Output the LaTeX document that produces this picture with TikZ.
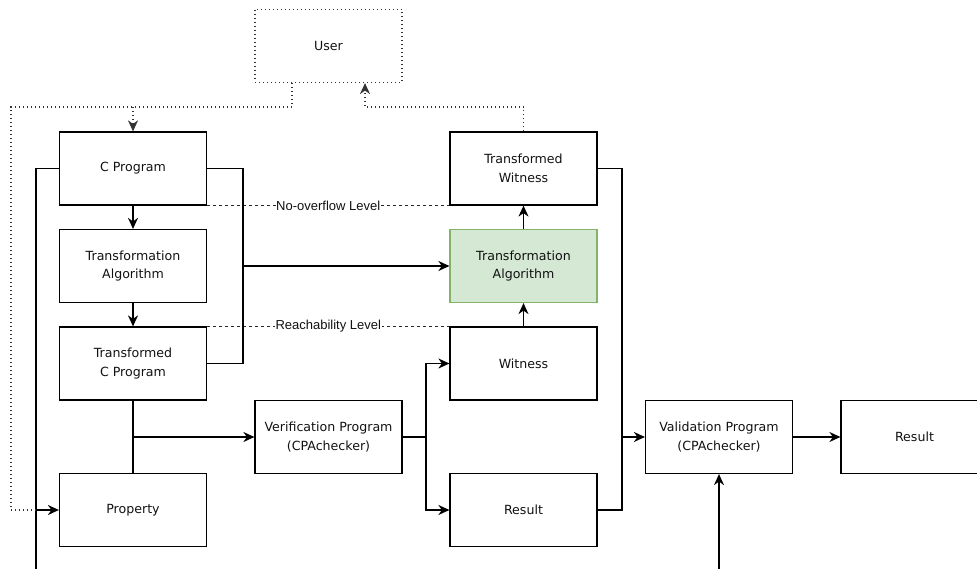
\documentclass[tikz,border=0pt]{standalone}
\usepackage{fontspec}
\setmainfont{DejaVu Sans}
\newfontfamily\lblfont{Liberation Sans}
\usetikzlibrary{arrows.meta}
\definecolor{gfill}{HTML}{D5E8D4}
\definecolor{gdraw}{HTML}{82B366}
\definecolor{txt}{HTML}{111111}
\tikzset{
  box/.style={draw=black, line width=1.2pt, minimum width=147pt, minimum height=73pt,
    align=center, text=txt, font=\fontsize{12.6}{18.5}\selectfont, inner sep=2pt},
  userbox/.style={box, draw=black!80, dash pattern=on 1pt off 3pt},
  greenbox/.style={box, fill=gfill, draw=gdraw},
  ln/.style={draw=black, line width=1.3pt},
  arr/.style={ln, -{Stealth[length=11pt,width=10pt,inset=3.5pt]}},
  dotln/.style={draw=black!80, line width=1.2pt, dash pattern=on 1pt off 3pt},
  dotarr/.style={dotln, -{Stealth[length=11pt,width=10pt,inset=3.5pt]}},
  lvlln/.style={draw=black!85, line width=1.1pt, dash pattern=on 3pt off 3pt},
  lvl/.style={fill=white, inner sep=0.6pt, text=txt, font=\lblfont\fontsize{13}{14}\selectfont}
}
\begin{document}
\begin{tikzpicture}[x=1pt,y=-1pt]
\useasboundingbox (0,0) rectangle (977,569);
% nodes
\node[userbox] (user) at (328.5,46) {User};
\node[box] (cprog) at (133,168.5) {C Program};
\node[box] (talg) at (133,266) {Transformation\\Algorithm};
\node[box] (tcprog) at (133,363.5) {Transformed\\C Program};
\node[box] (prop) at (133,510) {Property};
\node[box] (verif) at (328.5,437) {Verification Program\\(CPAchecker)};
\node[box] (witness) at (523.5,363.5) {Witness};
\node[box] (resmid) at (523.5,510) {Result};
\node[greenbox] (galg) at (523.5,266) {Transformation\\Algorithm};
\node[box] (twit) at (523.5,168.5) {Transformed\\Witness};
\node[box] (valid) at (719,437) {Validation Program\\(CPAchecker)};
\node[box] (result) at (914.5,437) {Result};
% coordinates
\coordinate (j1) at (243,266);
\coordinate (j2) at (133,437);
\coordinate (j3) at (426,437);
\coordinate (j4) at (622,437);
\coordinate (b0) at (36,569);
\coordinate (b1) at (719,569);
\coordinate (d1) at (292,107);
\coordinate (d2) at (133,107);
\coordinate (d3) at (11,107);
\coordinate (d4) at (11,510);
\coordinate (d5) at (36,510);
\coordinate (e1) at (523.5,107);
\coordinate (e2) at (365,107);
% level lines
\draw[lvlln] (cprog.south east) -- node[lvl]{No-overflow Level} (twit.south west);
\draw[lvlln] (tcprog.north east) -- node[lvl]{Reachability Level} (witness.north west);
% connectors
\draw[arr] (cprog) -- (talg);
\draw[arr] (talg) -- (tcprog);
\draw[ln] (cprog.east) -| (j1) |- (tcprog.east);
\draw[arr] (j1) -- (galg.west);
\draw[ln] (tcprog.south) -- (prop.north);
\draw[arr] (j2) -- (verif.west);
\draw[ln] (verif.east) -- (j3);
\draw[arr] (j3) |- (witness.west);
\draw[arr] (j3) |- (resmid.west);
\draw[arr] (witness) -- (galg);
\draw[arr] (galg) -- (twit);
\draw[ln] (twit.east) -| (j4);
\draw[ln] (resmid.east) -| (j4);
\draw[arr] (j4) -- (valid.west);
\draw[arr] (valid) -- (result);
\draw[arr] (b1) -- (valid.south);
\draw[ln] (cprog.west) -| (b0);
% user dotted connectors
\draw[dotln] (user.south -| d1) -- (d1) -- (d3) -- (d4) -- (d5);
\draw[dotarr] (d2) -- (cprog.north);
\draw[arr] (d5) -- (prop.west);
\draw[dotarr] (twit.north) -- (e1) -- (e2) -- (user.south -| e2);
\end{tikzpicture}
\end{document}
